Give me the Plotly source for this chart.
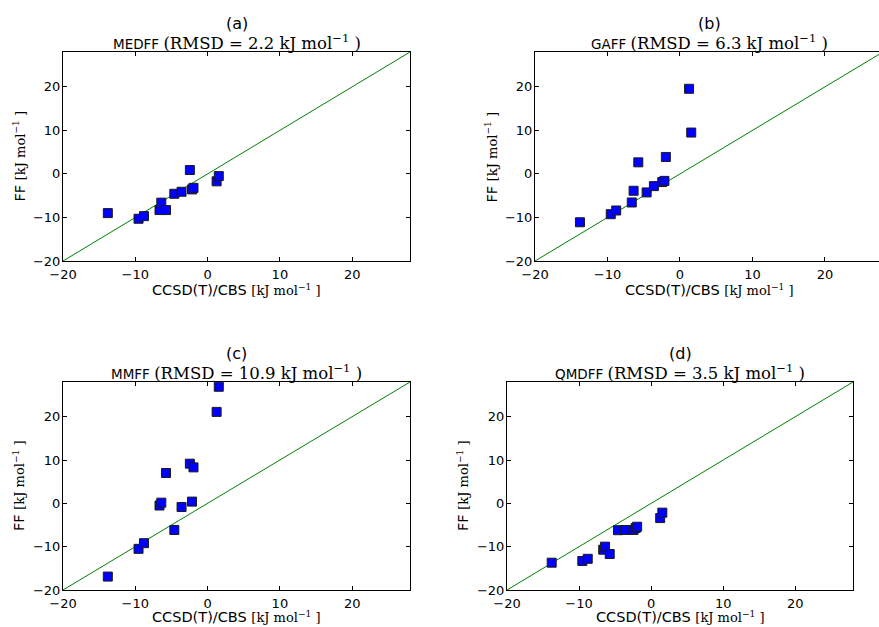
import plotly.graph_objects as go

# Reference energies (CCSD(T)/CBS), kJ/mol
ref = [-13.8, -9.55, -8.8, -6.65, -6.4, -5.75, -4.6, -3.6, -2.45, -2.15, -1.95, 1.25, 1.55]
# Force-field energies per panel
medff = [-9.0, -10.3, -9.7, -8.3, -6.6, -8.3, -4.56, -4.1, 0.9, -3.56, -3.2, -1.7, -0.5]
gaff = [-11.1, -9.25, -8.4, -6.56, -3.87, 2.66, -4.25, -2.8, -1.87, -1.6, 3.9, 19.55, 9.5]
mmff = [-16.9, -10.5, -9.2, -0.5, 0.15, 7.0, -6.15, -0.85, 9.15, 0.4, 8.3, 21.1, 26.9]
qmdff = [-13.7, -13.3, -12.8, -10.7, -10.0, -11.7, -6.2, -6.15, -6.15, -5.7, -5.4, -3.4, -2.15]

panel_letters = ["(a)", "(b)", "(c)", "(d)"]
ff_names = ["MEDFF", "GAFF", "MMFF", "QMDFF"]
rmsd = ["2.2", "6.3", "10.9", "3.5"]
series = [medff, gaff, mmff, qmdff]
diag = [-20, 28]
ticks = [-20, -10, 0, 10, 20]

W, H = 879, 627
# panel pixel boxes: (left, right, top, bottom, xmax, centre, xlabel offset)
boxes = [
    (63, 410, 52, 261, 28, 236.5, 29),
    (535, 879, 52, 261, 27.45, 709, 29),
    (63, 410, 382, 590, 28, 236.5, 27),
    (507, 853, 382, 590, 28, 680, 27),
]

SERIF = "DejaVu Serif"
SANS = "DejaVu Sans"


def serif(txt, size):
    return ("<span style=\"font-family:" + SERIF + ";font-size:" + str(size) + "px\">"
            + txt + "</span>")


fig = go.Figure()
layout = dict(
    width=W, height=H, margin=dict(l=0, r=0, t=0, b=0, pad=0, autoexpand=False),
    paper_bgcolor="white", plot_bgcolor="white", showlegend=False,
    font=dict(family=SANS, color="black"),
)
annotations = []

for i, (l, r, t, b, xmax, cpx, xlo) in enumerate(boxes):
    sfx = "" if i == 0 else str(i + 1)
    xa, ya = "x" + sfx, "y" + sfx
    fig.add_trace(go.Scatter(x=diag, y=diag, mode="lines", xaxis=xa, yaxis=ya,
                             line=dict(color="#008000", width=1), hoverinfo="skip"))
    fig.add_trace(go.Scatter(x=ref, y=series[i], mode="markers", xaxis=xa, yaxis=ya,
                             marker=dict(symbol="square", size=9, color="#0000ff",
                                         line=dict(color="#1a1a1a", width=1))))
    common = dict(tickvals=ticks, ticks="inside", ticklen=4, tickcolor="black",
                  showline=True, linecolor="black", linewidth=1,
                  showgrid=False, zeroline=False, automargin=False,
                  tickfont=dict(family=SANS, size=13, color="black"))
    layout["xaxis" + sfx] = dict(common, range=[-20, xmax], mirror="ticks",
                                 ticklabelstandoff=1,
                                 domain=[l / W, r / W], anchor=ya)
    layout["yaxis" + sfx] = dict(common, range=[-20, 28],
                                 mirror=("ticks" if i != 1 else False),
                                 ticklabelstandoff=-1,
                                 domain=[1 - b / H, 1 - t / H], anchor=xa)
    cx = cpx / W
    annotations.append(dict(text=panel_letters[i], x=cx, y=1 - (t - 28) / H,
                            xref="paper", yref="paper", showarrow=False,
                            xanchor="center", yanchor="middle",
                            font=dict(family=SANS, size=16, color="black")))
    annotations.append(dict(
        text=ff_names[i] + " " + serif("(RMSD = " + rmsd[i] + " kJ mol<sup>−1</sup> )", 16.5),
        x=cx, y=1 - (t - 10) / H, xref="paper", yref="paper", showarrow=False,
        xanchor="center", yanchor="middle",
        font=dict(family=SANS, size=13.5, color="black")))
    annotations.append(dict(
        text="CCSD(T)/CBS " + serif("[kJ mol<sup>−1</sup> ]", 13),
        x=cx, y=1 - (b + xlo) / H, xref="paper", yref="paper", showarrow=False,
        xanchor="center", yanchor="middle",
        font=dict(family=SANS, size=14.5, color="black")))
    annotations.append(dict(
        text="FF " + serif("[kJ mol<sup>−1</sup> ]", 13),
        x=(l - 44) / W, y=1 - (t + b) / 2 / H, xref="paper", yref="paper",
        showarrow=False, textangle=-90, xanchor="center", yanchor="middle",
        font=dict(family=SANS, size=14.5, color="black")))

layout["annotations"] = annotations
fig.update_layout(**layout)
fig.write_html("out.html")
